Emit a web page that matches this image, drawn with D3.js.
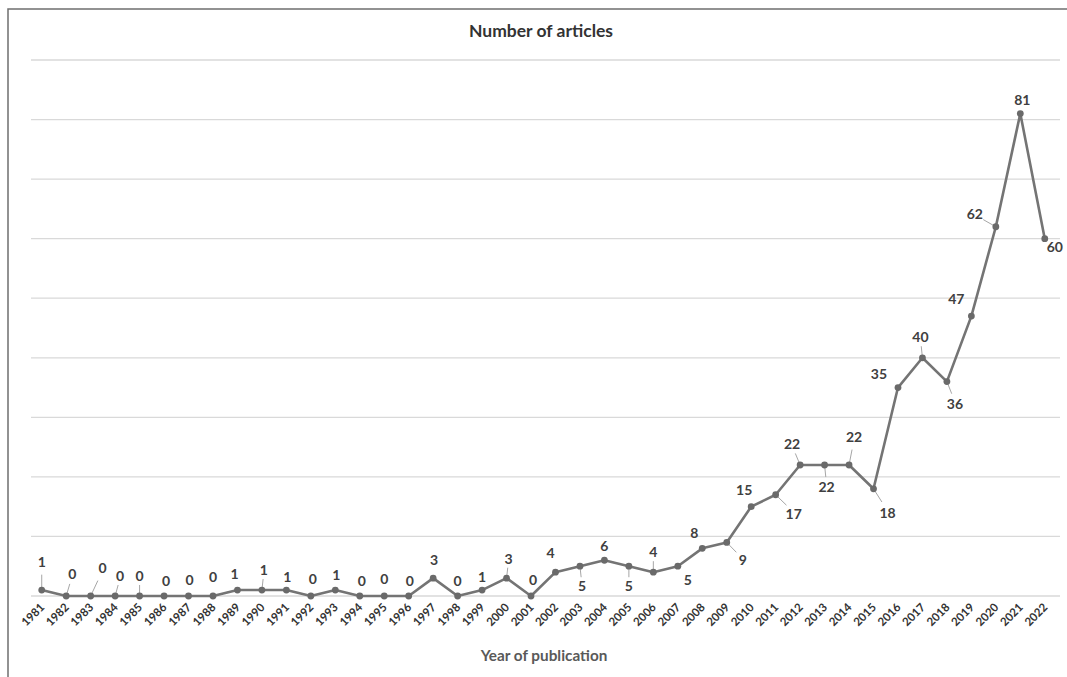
<!DOCTYPE html>
<html>
<head>
<meta charset="utf-8">
<script src="https://cdn.jsdelivr.net/npm/d3@7"></script>
<style>
  html, body { margin: 0; padding: 0; background: #fff; }
  svg { display: block; font-family: Lato, "Open Sans", "Liberation Sans", sans-serif; }
</style>
</head>
<body>
<svg id="chart" width="1067" height="677"></svg>
<script>
// Publications per year
const years = ["1981","1982","1983","1984","1985","1986","1987","1988","1989","1990",
  "1991","1992","1993","1994","1995","1996","1997","1998","1999","2000",
  "2001","2002","2003","2004","2005","2006","2007","2008","2009","2010",
  "2011","2012","2013","2014","2015","2016","2017","2018","2019","2020",
  "2021","2022"];
const articles = [1,0,0,0,0,0,0,0,1,1,
  1,0,1,0,0,0,3,0,1,3,
  0,4,5,6,5,4,5,8,9,15,
  17,22,22,22,18,35,40,36,47,62,
  81,60];
const yTicks = [0,10,20,30,40,50,60,70,80,90];

// Label placement relative to each point: [dx, dy, leader line?]
const labelPlacement = [
  [0,-28,1],[6,-22,1],[12,-28,1],[5,-20,1],[0,-20,1],[2,-15,0],[1,-16,0],[0,-19,0],[-3,-16,0],[2,-20,1],
  [1,-13,0],[2,-17,0],[1,-15,0],[2,-15,0],[0,-17,0],[1,-15,0],[1,-18,0],[0,-15,0],[0,-13,0],[2,-19,1],
  [2,-16,0],[-5,-19,0],[2,20,1],[0,-14,0],[0,20,1],[0,-20,1],[10,14,0],[-8,-15,0],[16,18,1],[-7,-17,0],
  [18,19,1],[-8,-21,1],[2,22,1],[5,-28,1],[14,24,1],[-19,-13,0],[-2,-21,1],[8,22,1],[-15,-17,0],[-21,-13,1],
  [2,-14,0],[10,8,0]
];

const svg = d3.select("#chart");
const plotLeft = 29.5, plotRight = 1057, plotTop = 60, plotBottom = 596;

const x = d3.scalePoint().domain(years).range([plotLeft, plotRight]).padding(0.5);
const y = d3.scaleLinear().domain([0, 90]).range([plotBottom, plotTop]);

// outer chart frame
svg.append("rect")
  .attr("x", 8).attr("y", 9)
  .attr("width", 1100).attr("height", 700)
  .attr("fill", "none").attr("stroke", "#6f6f6f").attr("stroke-width", 1.5);

// title
svg.append("text")
  .attr("x", 541).attr("y", 37)
  .attr("text-anchor", "middle")
  .attr("font-size", 17.5).attr("font-weight", "bold")
  .attr("fill", "#333333")
  .text("Number of articles");

// horizontal gridlines
svg.append("g").selectAll("line").data(yTicks).join("line")
  .attr("x1", 31).attr("x2", 1060)
  .attr("y1", d => y(d)).attr("y2", d => y(d))
  .attr("stroke", "#d9d9d9").attr("stroke-width", 1.3);

// x axis with rotated year labels
const xAxis = svg.append("g")
  .attr("transform", `translate(0,${plotBottom})`)
  .call(d3.axisBottom(x).tickSize(0).tickPadding(0));
xAxis.select(".domain").remove();
xAxis.selectAll("text")
  .attr("font-family", "Lato, 'Open Sans', sans-serif")
  .attr("font-size", 11.5)
  .attr("font-weight", "bold")
  .attr("fill", "#333333")
  .attr("text-anchor", "end")
  .attr("dy", 0)
  .attr("transform", "translate(3,12) rotate(-45)");

// axis title
svg.append("text")
  .attr("x", 544).attr("y", 661)
  .attr("text-anchor", "middle")
  .attr("font-size", 15.3).attr("font-weight", "bold")
  .attr("fill", "#595959")
  .text("Year of publication");

const pts = years.map((yr, i) => ({ yr, v: articles[i], p: labelPlacement[i] }));

// leader lines for moved labels
svg.append("g").selectAll("line").data(pts.filter(d => d.p[2])).join("line")
  .attr("x1", d => x(d.yr)).attr("y1", d => y(d.v))
  .attr("x2", d => x(d.yr) + d.p[0] * 0.6)
  .attr("y2", d => y(d.v) + d.p[1] * 0.55)
  .attr("stroke", "#a6a6a6").attr("stroke-width", 1);

// series line
svg.append("path")
  .datum(pts)
  .attr("fill", "none")
  .attr("stroke", "#747474")
  .attr("stroke-width", 2.6)
  .attr("stroke-linejoin", "round")
  .attr("d", d3.line().x(d => x(d.yr)).y(d => y(d.v)));

// markers
svg.append("g").selectAll("circle").data(pts).join("circle")
  .attr("cx", d => x(d.yr)).attr("cy", d => y(d.v))
  .attr("r", 3.4)
  .attr("fill", "#6a6a6a");

// value labels
svg.append("g").selectAll("text").data(pts).join("text")
  .attr("x", d => x(d.yr) + d.p[0])
  .attr("y", d => y(d.v) + d.p[1])
  .attr("dy", "0.35em")
  .attr("text-anchor", "middle")
  .attr("font-size", 14).attr("font-weight", "bold")
  .attr("fill", "#404040")
  .text(d => d.v);
</script>
</body>
</html>
